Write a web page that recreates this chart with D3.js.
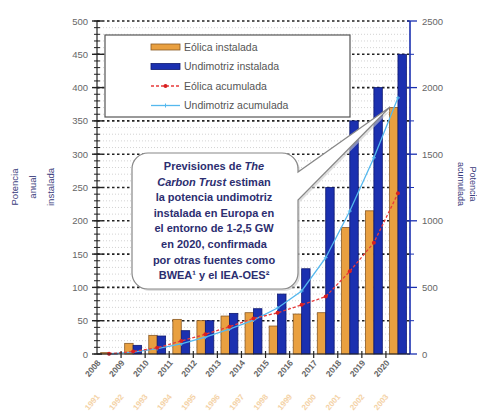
<!DOCTYPE html>
<html>
<head>
<meta charset="utf-8">
<script src="https://cdn.jsdelivr.net/npm/d3@7"></script>
<style>
  body { margin: 0; background: #fff; }
  text { font-family: "Liberation Sans", Arial, sans-serif; }
</style>
</head>
<body>
<script>
// potencia instalada: eólica vs undimotriz
const years = ["2008","2009","2010","2011","2012","2013","2014","2015","2016","2017","2018","2019","2020"];
const windYears = ["1991","1992","1993","1994","1995","1996","1997","1998","1999","2000","2001","2002","2003"];
const eolicaInst = [2, 16, 28, 52, 50, 57, 62, 42, 60, 62, 190, 215, 370];
const undiInst = [1, 13, 27, 35, 50, 61, 68, 90, 128, 250, 350, 400, 450];
const eolicaAcum = [2, 18, 46, 98, 148, 205, 267, 309, 369, 431, 621, 836, 1206];
const undiAcum = [1, 14, 41, 76, 126, 187, 255, 345, 473, 723, 1073, 1473, 1923];
const leftTicks = [0, 50, 100, 150, 200, 250, 300, 350, 400, 450, 500];
const rightTicks = [0, 500, 1000, 1500, 2000, 2500];
const bubbleLines = [
  [["Previsiones de ", false], ["The", true]],
  [["Carbon Trust", true], [" estiman", false]],
  [["la potencia undimotriz", false]],
  [["instalada en Europa en", false]],
  [["el entorno de 1-2,5 GW", false]],
  [["en 2020, confirmada", false]],
  [["por otras fuentes como", false]],
  [["BWEA¹ y el IEA-OES²", false]]
];

const margin = { top: 21, right: 67, bottom: 62, left: 97 },
    width = 477 - margin.left - margin.right,
    height = 416 - margin.top - margin.bottom;

const svgRoot = d3.select("body").append("svg")
    .attr("width", 477)
    .attr("height", 416);
const svg = svgRoot.append("g")
    .attr("transform", `translate(${margin.left},${margin.top})`);

const x = d3.scaleBand().domain(years).range([0, width]).paddingInner(0.3).paddingOuter(0.15);
const xGroup = d3.scaleBand().domain(years).range([0, width]);
const xSub = d3.scaleBand().domain(["e", "u"]).range([0, x.bandwidth()]);
const yL = d3.scaleLinear().domain([0, 500]).range([height, 0]);
const yR = d3.scaleLinear().domain([0, 2500]).range([height, 0]);

// minor grid
svg.append("g").selectAll("line")
    .data(d3.range(0, 501, 10).filter(v => v % 50 !== 0))
    .enter().append("line")
    .attr("x1", 0).attr("x2", width)
    .attr("y1", d => yL(d)).attr("y2", d => yL(d))
    .attr("stroke", "#c8c8c8").attr("stroke-width", 0.8)
    .attr("stroke-dasharray", "1,2");

// major grid
svg.append("g").selectAll("line")
    .data(leftTicks.filter(v => v > 0))
    .enter().append("line")
    .attr("x1", 0).attr("x2", width)
    .attr("y1", d => yL(d)).attr("y2", d => yL(d))
    .attr("stroke", "#222").attr("stroke-width", 1.6)
    .attr("stroke-dasharray", "2.5,2.5");

// bars
const groups = svg.append("g").selectAll("g")
    .data(years)
    .enter().append("g")
    .attr("transform", d => `translate(${x(d)},0)`);
groups.append("rect")
    .attr("x", xSub("e"))
    .attr("width", xSub.bandwidth())
    .attr("y", (d, i) => yL(eolicaInst[i]))
    .attr("height", (d, i) => height - yL(eolicaInst[i]))
    .attr("fill", "#e9a040")
    .attr("stroke", "#8a5a24").attr("stroke-width", 0.8);
groups.append("rect")
    .attr("x", xSub("u"))
    .attr("width", xSub.bandwidth())
    .attr("y", (d, i) => yL(undiInst[i]))
    .attr("height", (d, i) => height - yL(undiInst[i]))
    .attr("fill", "#1b30b0")
    .attr("stroke", "#0d1870").attr("stroke-width", 0.8);

// cumulative lines (right axis)
const cx = d => xGroup(d) + xGroup.bandwidth() / 2;
const lineU = d3.line().x((d, i) => cx(years[i])).y(d => yR(d));
svg.append("path")
    .datum(undiAcum)
    .attr("d", lineU)
    .attr("fill", "none")
    .attr("stroke", "#55b8ee").attr("stroke-width", 1.3);
svg.append("g").selectAll("path")
    .data(undiAcum)
    .enter().append("path")
    .attr("d", (d, i) => `M${cx(years[i]) - 2},${yR(d)}h4M${cx(years[i])},${yR(d) - 2}v4`)
    .attr("stroke", "#55b8ee").attr("stroke-width", 1);

svg.append("path")
    .datum(eolicaAcum)
    .attr("d", lineU)
    .attr("fill", "none")
    .attr("stroke", "#e83a3a").attr("stroke-width", 1.3)
    .attr("stroke-dasharray", "3,2");
svg.append("g").selectAll("circle")
    .data(eolicaAcum)
    .enter().append("circle")
    .attr("cx", (d, i) => cx(years[i]))
    .attr("cy", d => yR(d))
    .attr("r", 2)
    .attr("fill", "#d82020");

// callout bubble
const bubble = "M148,153 H282 A16,16 0 0 1 298,169 V172 L390,107 L298,200 V273 A16,16 0 0 1 282,289 H148 A16,16 0 0 1 132,273 V169 A16,16 0 0 1 148,153 Z";
svgRoot.append("path")
    .attr("d", bubble)
    .attr("transform", "translate(2,2)")
    .attr("fill", "#ccc").attr("opacity", 0.6);
svgRoot.append("path")
    .attr("d", bubble)
    .attr("fill", "#fff")
    .attr("stroke", "#888").attr("stroke-width", 1.2);
const bt = svgRoot.append("g");
bubbleLines.forEach((parts, i) => {
    const t = bt.append("text")
        .attr("x", 214)
        .attr("y", 170 + i * 15.6)
        .attr("text-anchor", "middle")
        .attr("font-size", 11)
        .attr("font-weight", "bold")
        .attr("fill", "#2c2e70");
    parts.forEach(p => {
        t.append("tspan").text(p[0]).attr("font-style", p[1] ? "italic" : "normal");
    });
});

// legend
const lg = svgRoot.append("g");
lg.append("rect")
    .attr("x", 105).attr("y", 35).attr("width", 245).attr("height", 82)
    .attr("fill", "#fff").attr("stroke", "#555").attr("stroke-width", 1.2);
const legendItems = [
    { label: "Eólica instalada", type: "bar", color: "#e9a040", border: "#8a5a24" },
    { label: "Undimotriz instalada", type: "bar", color: "#1b30b0", border: "#0d1870" },
    { label: "Eólica acumulada", type: "dash", color: "#e83a3a" },
    { label: "Undimotriz acumulada", type: "line", color: "#55b8ee" }
];
legendItems.forEach((it, i) => {
    const yy = 47 + i * 19.5;
    if (it.type === "bar") {
        lg.append("rect")
            .attr("x", 151).attr("y", yy - 3).attr("width", 29).attr("height", 6)
            .attr("fill", it.color).attr("stroke", it.border).attr("stroke-width", 0.8);
    } else {
        lg.append("line")
            .attr("x1", 151).attr("x2", 180).attr("y1", yy).attr("y2", yy)
            .attr("stroke", it.color).attr("stroke-width", 1.3)
            .attr("stroke-dasharray", it.type === "dash" ? "3,2" : null);
        if (it.type === "dash") {
            lg.append("circle").attr("cx", 165.5).attr("cy", yy).attr("r", 2).attr("fill", "#d82020");
        } else {
            lg.append("path").attr("d", `M163.5,${yy}h4M165.5,${yy - 2}v4`)
                .attr("stroke", it.color).attr("stroke-width", 1);
        }
    }
    lg.append("text")
        .attr("x", 184).attr("y", yy + 3.5)
        .attr("font-size", 10.5)
        .attr("fill", "#555")
        .text(it.label);
});

// left axis
const axL = svg.append("g");
axL.append("line").attr("x1", 0).attr("x2", 0).attr("y1", 0).attr("y2", height)
    .attr("stroke", "#222").attr("stroke-width", 1.2);
axL.selectAll(".minor")
    .data(d3.range(0, 501, 10))
    .enter().append("line")
    .attr("x1", -3).attr("x2", 3)
    .attr("y1", d => yL(d)).attr("y2", d => yL(d))
    .attr("stroke", "#222").attr("stroke-width", 1);
axL.selectAll(".major")
    .data(leftTicks)
    .enter().append("line")
    .attr("x1", -5).attr("x2", 5)
    .attr("y1", d => yL(d)).attr("y2", d => yL(d))
    .attr("stroke", "#222").attr("stroke-width", 1.4);
axL.selectAll("text")
    .data(leftTicks)
    .enter().append("text")
    .attr("x", -9).attr("y", d => yL(d) + 3.5)
    .attr("text-anchor", "end")
    .attr("font-size", 9.5)
    .attr("fill", "#666")
    .text(d => d);

// right axis
const axR = svg.append("g").attr("transform", `translate(${width},0)`);
axR.append("line").attr("x1", 0).attr("x2", 0).attr("y1", 0).attr("y2", height)
    .attr("stroke", "#1b30b0").attr("stroke-width", 1.6);
axR.selectAll(".minor")
    .data(d3.range(250, 2500, 500))
    .enter().append("line")
    .attr("x1", 0).attr("x2", 4)
    .attr("y1", d => yR(d)).attr("y2", d => yR(d))
    .attr("stroke", "#1b30b0").attr("stroke-width", 1);
axR.selectAll(".major")
    .data(rightTicks)
    .enter().append("line")
    .attr("x1", -3).attr("x2", 7)
    .attr("y1", d => yR(d)).attr("y2", d => yR(d))
    .attr("stroke", "#1b30b0").attr("stroke-width", 1.3);
axR.selectAll("text")
    .data(rightTicks)
    .enter().append("text")
    .attr("x", 12).attr("y", d => yR(d) + 3.5)
    .attr("font-size", 9.5)
    .attr("fill", "#666")
    .text(d => d);

// bottom axis
const axB = svg.append("g").attr("transform", `translate(0,${height})`);
axB.append("line").attr("x1", 0).attr("x2", width).attr("y1", 0).attr("y2", 0)
    .attr("stroke", "#222").attr("stroke-width", 1.2);
axB.selectAll(".tick")
    .data(years.slice(1))
    .enter().append("line")
    .attr("x1", d => xGroup(d)).attr("x2", d => xGroup(d))
    .attr("y1", -3).attr("y2", 4)
    .attr("stroke", "#222").attr("stroke-width", 1.2);
axB.selectAll(".yl")
    .data(years)
    .enter().append("text")
    .attr("transform", d => `translate(${cx(d) - 8},9) rotate(-50)`)
    .attr("text-anchor", "end")
    .attr("font-size", 8.5)
    .attr("font-weight", "bold")
    .attr("fill", "#666")
    .text(d => d);
axB.selectAll(".wl")
    .data(windYears)
    .enter().append("text")
    .attr("transform", d => `translate(${cx(years[windYears.indexOf(d)]) - 9},43) rotate(-50)`)
    .attr("text-anchor", "end")
    .attr("font-size", 8)
    .attr("font-weight", "bold")
    .attr("fill", "#f2c890")
    .attr("opacity", 0.8)
    .text(d => d);

// axis titles
["Potencia", "anual", "instalada"].forEach((t, i) => {
    svgRoot.append("text")
        .attr("transform", `translate(${18 + i * 18},187) rotate(-90)`)
        .attr("text-anchor", "middle")
        .attr("font-size", 9.5)
        .attr("fill", "#3a3c7c")
        .text(t);
});
["acumulada", "Potencia"].forEach((t, i) => {
    svgRoot.append("text")
        .attr("transform", `translate(${458 + i * 12},184) rotate(90)`)
        .attr("text-anchor", "middle")
        .attr("font-size", 9)
        .attr("fill", "#3a3c7c")
        .text(t);
});
</script>
</body>
</html>
